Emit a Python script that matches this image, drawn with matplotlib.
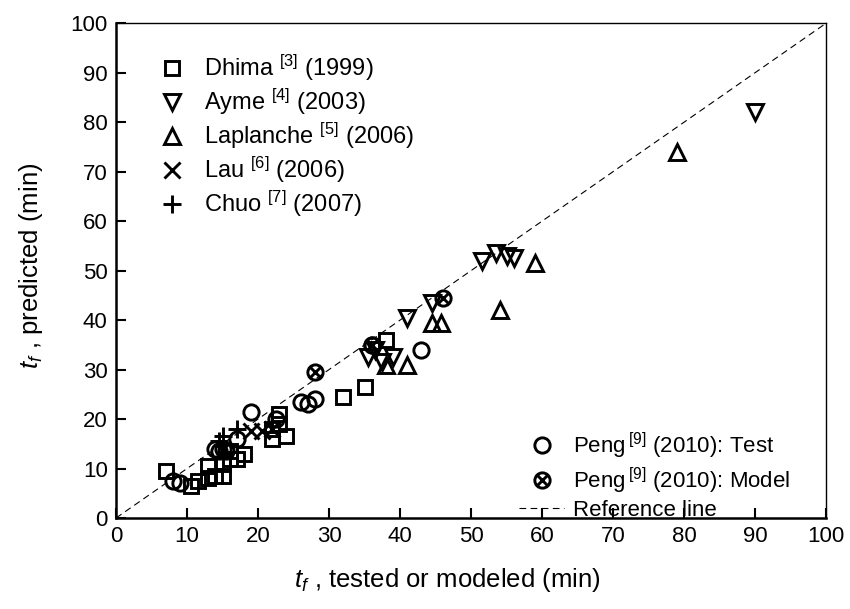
import matplotlib
matplotlib.use("Agg")
import matplotlib.pyplot as plt
from matplotlib.path import Path

plt.rcParams['font.family'] = ['Liberation Sans', 'DejaVu Sans']
plt.rcParams['mathtext.fontset'] = 'custom'
plt.rcParams['mathtext.rm'] = 'Liberation Sans'
plt.rcParams['mathtext.it'] = 'Liberation Sans:italic'

# data
dhima_x = [7, 10.5, 11.5, 13, 13, 14, 15, 15, 16, 16, 17, 18, 22, 22, 23, 23, 24, 32, 35, 38]
dhima_y = [9.5, 6.5, 7.5, 8, 10.5, 8.5, 8.5, 11, 12, 13.5, 12, 13, 16, 18, 19, 21, 16.5, 24.5, 26.5, 36]

ayme_x = [35.5, 36.5, 37.5, 39, 41, 44.5, 51.5, 53.5, 55, 56, 90]
ayme_y = [32.5, 34, 31.5, 32.5, 40.5, 43.5, 52, 53.5, 53, 52.5, 82]

lap_x = [38, 41, 44.5, 45.8, 54, 59, 79]
lap_y = [31, 31, 39.5, 39.5, 42, 51.5, 74]

lau_x = [19, 20.5, 22]
lau_y = [17.5, 17.5, 18]

chuo_x = [14.5, 15, 17]
chuo_y = [15.5, 16.5, 18]

peng_test_x = [8, 9, 14, 14.5, 15.5, 17, 19, 22.5, 26, 27, 28, 36, 43]
peng_test_y = [7.5, 7, 14, 13.5, 13.5, 16, 21.5, 20, 23.5, 23, 24, 35, 34]

peng_model_x = [15, 28, 36, 46]
peng_model_y = [14, 29.5, 35, 44.5]

# circle with an x inside
d = 0.62
crossed = Path.make_compound_path(
    Path.unit_circle(),
    Path([(-d, -d), (d, d)], [Path.MOVETO, Path.LINETO]),
    Path([(-d, d), (d, -d)], [Path.MOVETO, Path.LINETO]),
)

fig = plt.figure(figsize=(8.5, 6.09), dpi=100)
ax = fig.add_axes([0.1365, 0.1494, 0.8355, 0.8126])

kw = dict(linestyle='none', color='k', markerfacecolor='none', markeredgewidth=2.1)
h1, = ax.plot(dhima_x, dhima_y, marker='s', markersize=10, label=r'Dhima $^{\rm [3]}$ (1999)', **kw)
h2, = ax.plot(ayme_x, ayme_y, marker='v', markersize=12, label=r'Ayme $^{\rm [4]}$ (2003)', **kw)
h3, = ax.plot(lap_x, lap_y, marker='^', markersize=12, label=r'Laplanche $^{\rm [5]}$ (2006)', **kw)
h4, = ax.plot(lau_x, lau_y, marker='x', markersize=11, label=r'Lau $^{\rm [6]}$ (2006)', **kw)
h5, = ax.plot(chuo_x, chuo_y, marker='+', markersize=13, label=r'Chuo $^{\rm [7]}$ (2007)', **kw)
h6, = ax.plot(peng_test_x, peng_test_y, marker='o', markersize=11, label=r'Peng$\,^{\rm [9]}$ (2010): Test', **kw)
h7, = ax.plot(peng_model_x, peng_model_y, marker=crossed, markersize=11, label=r'Peng$\,^{\rm [9]}$ (2010): Model', **kw)
h8, = ax.plot([0, 100], [0, 100], 'k--', lw=0.8, dashes=(6, 4), label='Reference line')

leg1 = ax.legend(handles=[h1, h2, h3, h4, h5], loc='upper left', bbox_to_anchor=(0.061, 0.94),
                 frameon=False, fontsize=17, handlelength=1.1, handletextpad=0.8,
                 labelspacing=0.16, borderpad=0, borderaxespad=0)
ax.add_artist(leg1)
ax.legend(handles=[h6, h7, h8], loc='lower right', bbox_to_anchor=(0.949, -0.006),
          frameon=False, fontsize=16, handlelength=2.0, handletextpad=0.4,
          labelspacing=0.2, borderpad=0, borderaxespad=0)

ax.set_xlim(0, 100)
ax.set_ylim(0, 100)
ax.set_xticks(range(0, 101, 10))
ax.set_yticks(range(0, 101, 10))
ax.tick_params(direction='in', length=7, width=1.5, labelsize=16, pad=6)
for s in ['top', 'right']:
    ax.spines[s].set_linewidth(1.0)
for s in ['left', 'bottom']:
    ax.spines[s].set_linewidth(1.8)

ax.set_xlabel(r'$t_f$ , tested or modeled (min)', fontsize=18.5)
ax.set_ylabel(r'$t_f$ , predicted (min)', fontsize=18.5)
ax.xaxis.set_label_coords(0.466, -0.097)
ax.yaxis.set_label_coords(-0.10, 0.51)

fig.savefig('out.png', dpi=100)
